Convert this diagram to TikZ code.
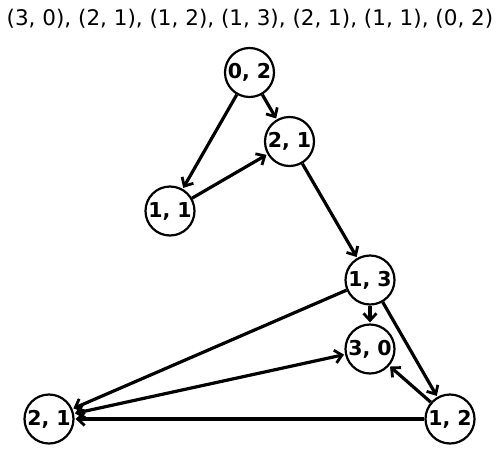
\documentclass[tikz,border=0pt]{standalone}
\usepackage{fontspec}
\setmainfont{DejaVu Sans}
\usetikzlibrary{arrows.meta}
\tikzset{mytip/.tip={Straight Barb[length=7pt,width=13pt,line width=2.8pt]}}
\begin{document}
\begin{tikzpicture}[x=1pt,y=-1pt,
  vert/.style={circle,draw,line width=2.2pt,minimum size=49pt,inner sep=0pt,fill=white,font=\fontsize{20.5}{20.5}\selectfont\bfseries},
  edge/.style={line width=3.2pt,-{mytip},shorten >=1pt},
  edge2/.style={line width=3.2pt,{mytip}-{mytip},shorten >=1pt,shorten <=1pt}]
\useasboundingbox (0,0) rectangle (500,463);
\node (title) at (250,19) {\fontsize{21.5}{21.5}\selectfont (3, 0), (2, 1), (1, 2), (1, 3), (2, 1), (1, 1), (0, 2)};
\node[vert] (a) at (249.5,72.5) {0, 2};
\node[vert] (b) at (289.5,141.5) {2, 1};
\node[vert] (c) at (170,211) {1, 1};
\node[vert] (d) at (370,280) {1, 3};
\node[vert] (e) at (370,349) {3, 0};
\node[vert] (f) at (49,419) {2, 1};
\node[vert] (g) at (450,419) {1, 2};
\draw[edge] (a) -- (c);
\draw[edge] (a) -- (b);
\draw[edge] (c) -- (b);
\draw[edge] (b) -- (d);
\draw[edge] (d) -- (e);
\draw[edge] (d) -- (f);
\draw[edge] (d) -- (g);
\draw[edge2] (f) -- (e);
\draw[edge] (g) -- (e);
\draw[edge] (g) -- (f);
\end{tikzpicture}
\end{document}
